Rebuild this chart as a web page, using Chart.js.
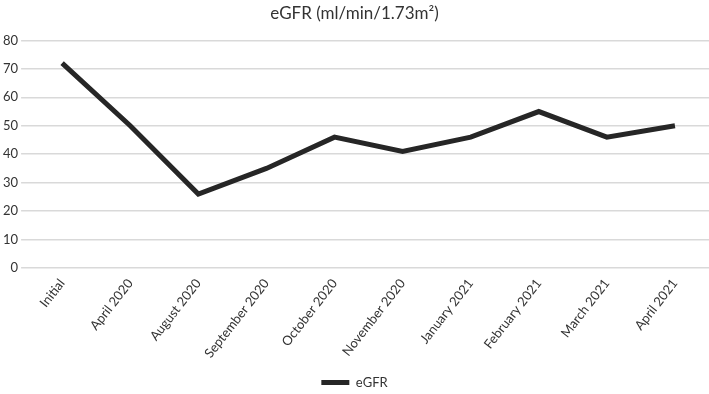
<!DOCTYPE html>
<html>
<head>
<meta charset="utf-8">
<script src="https://cdn.jsdelivr.net/npm/chart.js@4"></script>
<style>
html,body{margin:0;padding:0;background:#fff;}
#wrap{width:709px;height:394px;position:relative;}
</style>
</head>
<body>
<div id="wrap"><canvas id="c" width="709" height="394"></canvas></div>
<script>
const categories = ["Initial","April 2020","August 2020","September 2020","October 2020","November 2020","January 2021","February 2021","March 2021","April 2021"];
const egfrValues = [72,50,26,35,46,41,46,55,46,50];
const yTicks = [0,10,20,30,40,50,60,70,80];
const seriesName = "eGFR";
const chartTitle = "eGFR (ml/min/1.73m²)";

const FONT = "Lato, 'Open Sans', sans-serif";
new Chart(document.getElementById('c'), {
  type: 'line',
  data: {
    labels: categories,
    datasets: [{
      label: seriesName,
      data: egfrValues,
      borderColor: '#262626',
      backgroundColor: '#262626',
      borderWidth: 5,
      pointRadius: 0,
      tension: 0,
      borderJoinStyle: 'miter'
    }]
  },
  options: {
    responsive: false,
    animation: false,
    layout: { padding: { left: 0, right: 0, top: 1, bottom: -5 } },
    plugins: {
      title: {
        display: true,
        text: chartTitle,
        color: '#333333',
        font: { family: FONT, size: 17, weight: 'normal' },
        padding: { top: 2, bottom: 17 }
      },
      legend: {
        position: 'bottom',
        labels: {
          color: '#333333',
          font: { family: FONT, size: 13 },
          boxWidth: 28,
          boxHeight: 5,
          padding: 0,
          generateLabels(chart) {
            const items = Chart.defaults.plugins.legend.labels.generateLabels(chart);
            items.forEach(i => { i.lineWidth = 0; });
            return items;
          }
        }
      },
      tooltip: { enabled: false }
    },
    scales: {
      x: {
        offset: true,
        grid: { display: false },
        border: { display: false },
        afterFit(scale) { scale.height += 15; },
        ticks: {
          color: '#333333',
          font: { family: FONT, size: 13 },
          minRotation: 52,
          maxRotation: 52,
          autoSkip: false,
          padding: 0
        }
      },
      y: {
        min: 0,
        max: 80,
        afterBuildTicks(axis) { axis.ticks = yTicks.map(v => ({ value: v })); },
        grid: { color: '#d9d9d9', lineWidth: 1.5, drawTicks: true, tickLength: 7 },
        border: { display: false },
        ticks: {
          color: '#333333',
          font: { family: FONT, size: 13 },
          padding: 3
        }
      }
    }
  }
});
</script>
</body>
</html>
